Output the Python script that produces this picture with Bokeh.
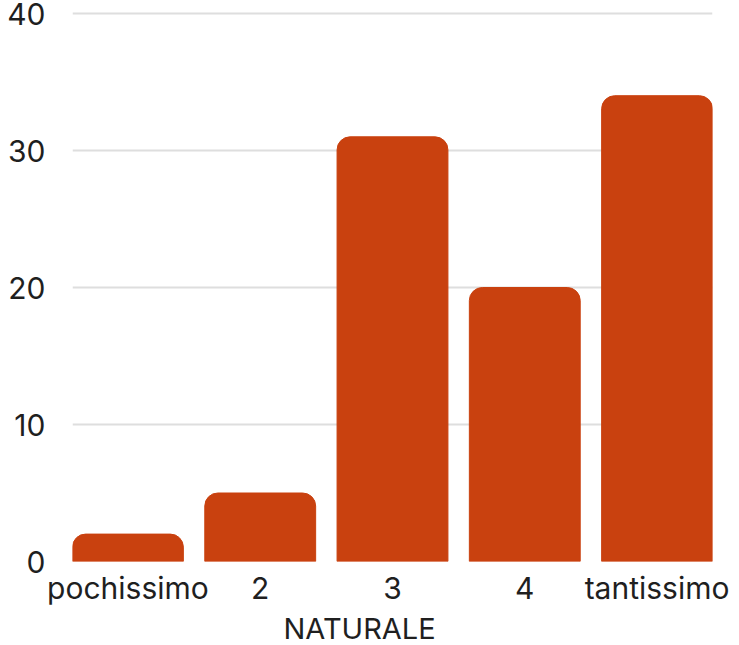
from bokeh.plotting import figure
from bokeh.models import FixedTicker, Range1d, Title
from bokeh.embed import file_html
from bokeh.resources import INLINE

# Responses per rating for "NATURALE"
categories = ["pochissimo", "2", "3", "4", "tantissimo"]
counts = [2, 5, 31, 20, 34]
y_ticks = [0, 10, 20, 30, 40]

FONT = "Inter"
BAR = "#C9410F"
TEXT = "#1f1f1f"

xs = list(range(len(categories)))
p = figure(width=739, height=645, output_backend="svg", toolbar_location=None,
           x_range=Range1d(-0.419, len(categories) - 1 + 0.419),
           y_range=Range1d(0, 40.95),
           min_border_left=72, min_border_right=27,
           min_border_top=0, min_border_bottom=83)
p.outline_line_color = None
p.background_fill_color = "white"
p.border_fill_color = "white"

p.vbar(x=xs, top=counts, width=0.838, color=BAR, border_radius=(13, 13, 0, 0))

p.xgrid.grid_line_color = None
p.ygrid.grid_line_color = "#dedede"
p.ygrid.grid_line_width = 2
p.ygrid.ticker = FixedTicker(ticks=y_ticks)
p.ygrid.level = "underlay"

p.yaxis.ticker = FixedTicker(ticks=y_ticks)
p.yaxis.axis_line_color = None
p.yaxis.major_tick_line_color = None
p.yaxis.minor_tick_line_color = None
p.yaxis.major_label_standoff = 21
p.yaxis.major_label_text_font = FONT
p.yaxis.major_label_text_font_size = "30px"
p.yaxis.major_label_text_color = TEXT

p.xaxis.ticker = FixedTicker(ticks=xs)
p.xaxis.major_label_overrides = {i: c for i, c in enumerate(categories)}
p.xaxis.axis_line_color = None
p.xaxis.major_tick_line_color = None
p.xaxis.minor_tick_line_color = None
p.xaxis.major_label_standoff = 2
p.xaxis.major_label_text_font = FONT
p.xaxis.major_label_text_font_size = "30px"
p.xaxis.major_label_text_color = TEXT

# axis title under the category labels, set a little left of centre
p.add_layout(Title(text="NATURALE", align="left", offset=211, standoff=0,
                   text_font=FONT, text_font_size="29px", text_font_style="normal",
                   text_color=TEXT), "below")

open("out.html", "w").write(file_html(p, INLINE))
